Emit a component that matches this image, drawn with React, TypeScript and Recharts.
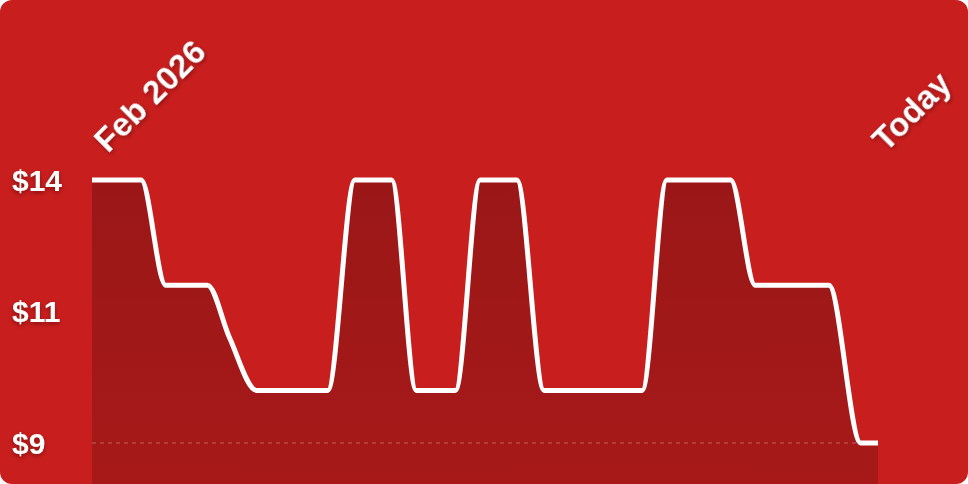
import { AreaChart, Area, XAxis, YAxis, ReferenceLine } from "recharts"

// price history, x in days since start of Feb 2026
const days = [0, 2, 3, 4.7, 5.6, 6.7, 9.6, 10.7, 12.2, 13.2, 14.8, 15.8, 17.3, 18.4, 22.4, 23.4, 26, 27, 30, 31.3, 32]
const prices = [14, 14, 12, 12, 11, 10, 10, 14, 14, 10, 10, 14, 14, 10, 10, 14, 14, 12, 12, 9, 9]

const priceTicks = [9, 11.5, 14]
const priceLabels = ["$9", "$11", "$14"]
const dateTicks = [0, 32]
const dateLabels = ["Feb 2026", "Today"]

const data = days.map((d, i) => ({ day: d, price: prices[i] }))

const FONT = "'Liberation Sans', Arial, Helvetica, sans-serif"
const SHADOW = "drop-shadow(0px 2px 2px rgba(60,0,0,0.45))"

const PriceTick = (props: any) => {
  const { y, payload } = props
  const idx = priceTicks.indexOf(payload.value)
  return (
    <text
      x={12}
      y={y + 11}
      fill="#fff"
      fontSize={30}
      fontWeight={700}
      fontFamily={FONT}
      textAnchor="start"
      style={{ filter: SHADOW }}
    >
      {priceLabels[idx]}
    </text>
  )
}

const DateTick = (props: any) => {
  const { x, payload } = props
  const idx = dateTicks.indexOf(payload.value)
  // first label starts right of the point, last one sits a bit left of it
  const dx = idx === 0 ? 16 : 8
  const by = idx === 0 ? 154 : 153
  return (
    <text
      transform={`translate(${x + dx}, ${by}) rotate(-45)`}
      fill="#fff"
      fontSize={33}
      fontWeight={700}
      fontFamily={FONT}
      textAnchor="start"
      style={{ filter: SHADOW }}
    >
      {dateLabels[idx]}
    </text>
  )
}

export default function App() {
  return (
    <div
      style={{
        position: "absolute",
        left: 0,
        top: 0,
        width: 968,
        height: 484,
        background: "#C91E1E",
        borderRadius: 12,
        overflow: "hidden",
      }}
    >
      <AreaChart width={968} height={484} data={data} margin={{ top: 20, right: 90, bottom: 0, left: 0 }}>
        <defs>
          <linearGradient id="priceFill" x1="0" y1="0" x2="0" y2="1">
            <stop offset="0%" stopColor="#000" stopOpacity={0.23} />
            <stop offset="100%" stopColor="#000" stopOpacity={0.17} />
          </linearGradient>
        </defs>
        <XAxis
          dataKey="day"
          type="number"
          domain={[0, 32]}
          ticks={dateTicks}
          interval={0}
          orientation="top"
          height={160}
          axisLine={false}
          tickLine={false}
          tick={<DateTick />}
        />
        <YAxis
          type="number"
          domain={[8.22, 14]}
          ticks={priceTicks}
          interval={0}
          width={92}
          axisLine={false}
          tickLine={false}
          tick={<PriceTick />}
        />
        <ReferenceLine y={9} stroke="rgba(255,255,255,0.22)" strokeWidth={1.5} strokeDasharray="4 4" />
        <Area
          type="monotone"
          dataKey="price"
          stroke="#fff"
          strokeWidth={5}
          fill="url(#priceFill)"
          fillOpacity={1}
          dot={false}
          activeDot={false}
          isAnimationActive={false}
        />
      </AreaChart>
    </div>
  )
}
